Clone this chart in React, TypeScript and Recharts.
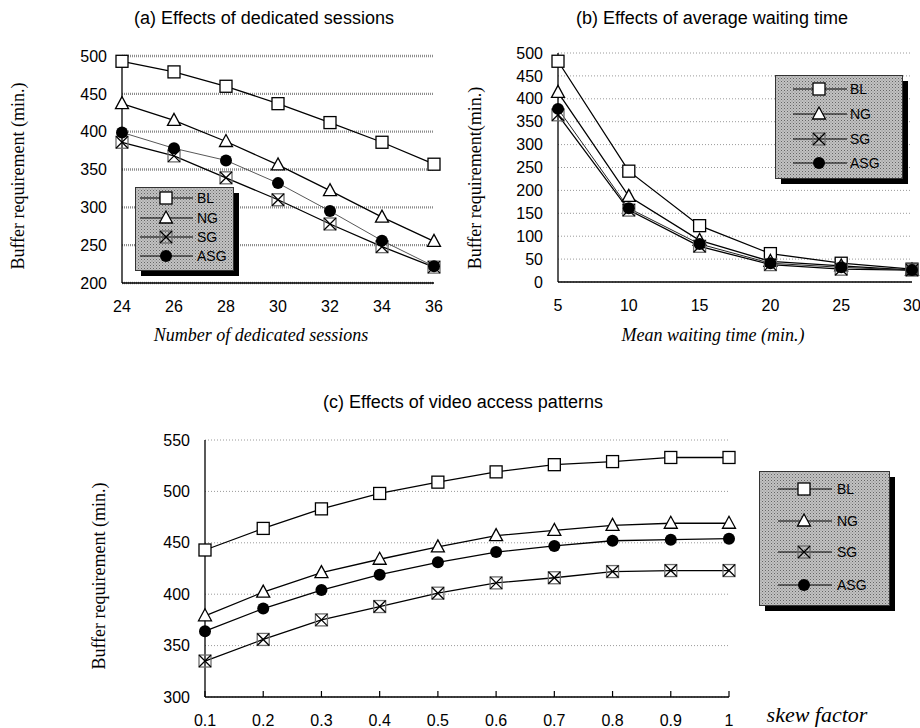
import React from 'react';
import { LineChart, Line, XAxis, YAxis, CartesianGrid, Legend } from 'recharts';

const SERIES = ['BL', 'NG', 'SG', 'ASG'];

const aX = [24, 26, 28, 30, 32, 34, 36];
const aBL = [493, 479, 460, 437, 412, 386, 357];
const aNG = [437, 415, 387, 356, 322, 287, 255];
const aSG = [386, 368, 339, 310, 278, 248, 221];
const aASG = [399, 378, 362, 332, 295, 256, 222];
const aYTicks = [200, 250, 300, 350, 400, 450, 500];

const bX = [5, 10, 15, 20, 25, 30];
const bBL = [482, 242, 123, 62, 41, 28];
const bNG = [414, 187, 91, 45, 35, 26];
const bSG = [365, 157, 78, 38, 28, 26];
const bASG = [378, 161, 83, 41, 32, 26];
const bYTicks = [0, 50, 100, 150, 200, 250, 300, 350, 400, 450, 500];

const cX = [0.1, 0.2, 0.3, 0.4, 0.5, 0.6, 0.7, 0.8, 0.9, 1];
const cBL = [443, 464, 483, 498, 509, 519, 526, 529, 533, 533];
const cNG = [379, 402, 421, 434, 446, 457, 462, 467, 469, 469];
const cSG = [335, 356, 375, 388, 401, 411, 416, 422, 423, 423];
const cASG = [364, 386, 404, 419, 431, 441, 447, 452, 453, 454];
const cYTicks = [300, 350, 400, 450, 500, 550];

const build = (xs: number[], bl: number[], ng: number[], sg: number[], asg: number[]) =>
  xs.map((x, i) => ({ x, BL: bl[i], NG: ng[i], SG: sg[i], ASG: asg[i] }));

const dataA = build(aX, aBL, aNG, aSG, aASG);
const dataB = build(bX, bBL, bNG, bSG, bASG);
const dataC = build(cX, cBL, cNG, cSG, cASG);

const SANS = '"Liberation Sans", Arial, sans-serif';
const SERIF = '"Liberation Serif", "Times New Roman", serif';
const TICK_MARGIN = 18;

function Marker({ type, cx, cy }: { type: string; cx: number; cy: number }) {
  if (type === 'BL') {
    return <rect x={cx - 6} y={cy - 6} width={12} height={12} fill="#fff" stroke="#000" strokeWidth={1.3} />;
  }
  if (type === 'NG') {
    return (
      <polygon
        points={`${cx},${cy - 7} ${cx - 6.5},${cy + 5} ${cx + 6.5},${cy + 5}`}
        fill="#fff"
        stroke="#000"
        strokeWidth={1.3}
      />
    );
  }
  if (type === 'SG') {
    return (
      <g>
        <rect x={cx - 6} y={cy - 6} width={12} height={12} fill="none" stroke="#6e6e6e" strokeWidth={1.3} />
        <line x1={cx - 6} y1={cy - 6} x2={cx + 6} y2={cy + 6} stroke="#000" strokeWidth={1.3} />
        <line x1={cx + 6} y1={cy - 6} x2={cx - 6} y2={cy + 6} stroke="#000" strokeWidth={1.3} />
      </g>
    );
  }
  return <circle cx={cx} cy={cy} r={6} fill="#000" />;
}

const makeDot = (type: string) => (p: any) => {
  if (p.cx == null || p.cy == null) return <g key={`e-${type}-${p.index}`} />;
  return (
    <g key={`d-${type}-${p.index}`}>
      <Marker type={type} cx={p.cx} cy={p.cy} />
    </g>
  );
};

const makeXTick = (inner: boolean) => (p: any) => {
  const axisY = p.y - TICK_MARGIN;
  return (
    <g>
      {inner ? <line x1={p.x} y1={axisY} x2={p.x} y2={axisY - 6} stroke="#000" strokeWidth={1.2} /> : null}
      <text x={p.x} y={p.y} dy="0.71em" textAnchor="middle" fontFamily={SANS} fontSize={16} fill="#000">
        {p.payload.value}
      </text>
    </g>
  );
};

type LegendGeom = {
  id: string;
  w: number;
  h: number;
  rows: number[];
  lx1: number;
  lx2: number;
  mx: number;
  tx: number;
  fs: number;
};

function LegendBox({ g }: { g: LegendGeom }) {
  return (
    <svg width={g.w + 7} height={g.h + 7} style={{ display: 'block' }}>
      <defs>
        <pattern id={g.id} width={3} height={3} patternUnits="userSpaceOnUse">
          <rect width={3} height={3} fill="#c2c2c2" />
          <rect x={0} y={0} width={1} height={1} fill="#666" />
          <rect x={1.5} y={1.5} width={1} height={1} fill="#888" />
        </pattern>
      </defs>
      <rect x={6} y={6} width={g.w} height={g.h} fill="#000" />
      <rect x={0.5} y={0.5} width={g.w} height={g.h} fill={`url(#${g.id})`} stroke="#333" strokeWidth={1} />
      {SERIES.map((s, i) => (
        <g key={s}>
          <line x1={g.lx1} y1={g.rows[i]} x2={g.lx2} y2={g.rows[i]} stroke="#000" strokeWidth={1.2} />
          <Marker type={s} cx={g.mx} cy={g.rows[i]} />
          <text x={g.tx} y={g.rows[i]} dy="0.36em" fontFamily={SANS} fontSize={g.fs} fill="#000">
            {s}
          </text>
        </g>
      ))}
    </svg>
  );
}

type PanelProps = {
  left: number;
  top: number;
  width: number;
  height: number;
  margin: { top: number; right: number; bottom: number; left: number };
  data: any[];
  xDomain: [number, number];
  xTicks: number[];
  yDomain: [number, number];
  yTicks: number[];
  grid: { stroke: string; width: number; dash: string };
  asgStroke: string;
  asgWidth: number;
  legend: LegendGeom;
  legendPos: { left: number; top: number };
  xAxisHeight: number;
  innerTicks: boolean;
};

function Panel(p: PanelProps) {
  return (
    <div style={{ position: 'absolute', left: p.left, top: p.top }}>
      <LineChart width={p.width} height={p.height} data={p.data} margin={p.margin}>
        <CartesianGrid
          vertical={false}
          stroke={p.grid.stroke}
          strokeWidth={p.grid.width}
          strokeDasharray={p.grid.dash}
        />
        <XAxis
          dataKey="x"
          type="number"
          domain={p.xDomain}
          ticks={p.xTicks}
          interval={0}
          height={p.xAxisHeight}
          tickSize={0}
          tickMargin={TICK_MARGIN}
          axisLine={{ stroke: '#000', strokeWidth: 1.3 }}
          tickLine={false}
          tick={makeXTick(p.innerTicks)}
          allowDecimals
        />
        <YAxis
          type="number"
          domain={p.yDomain}
          ticks={p.yTicks}
          interval={0}
          width={60}
          tickSize={0}
          tickMargin={15}
          axisLine={{ stroke: '#000', strokeWidth: 1.3 }}
          tickLine={false}
          tick={{ fill: '#000', fontSize: 16, fontFamily: SANS }}
        />
        <Legend
          layout="horizontal"
          align="center"
          verticalAlign="middle"
          wrapperStyle={{ left: p.legendPos.left, top: p.legendPos.top, width: 'auto', height: 'auto' }}
          content={() => <LegendBox g={p.legend} />}
        />
        {SERIES.map((s) => (
          <Line
            key={s}
            dataKey={s}
            name={s}
            type="linear"
            stroke={s === 'ASG' ? p.asgStroke : '#000'}
            strokeWidth={s === 'ASG' ? p.asgWidth : 1.3}
            dot={makeDot(s)}
            activeDot={false}
            isAnimationActive={false}
          />
        ))}
      </LineChart>
    </div>
  );
}

const txt = (
  content: string,
  cx: number,
  cy: number,
  opts: { font: string; size: number; italic?: boolean; rotate?: boolean }
) => (
  <div
    style={{
      position: 'absolute',
      left: cx,
      top: cy,
      transform: `translate(-50%, -50%)${opts.rotate ? ' rotate(-90deg)' : ''}`,
      whiteSpace: 'nowrap',
      fontFamily: opts.font,
      fontSize: opts.size,
      fontStyle: opts.italic ? 'italic' : 'normal',
      color: '#000',
      lineHeight: 1,
    }}
  >
    {content}
  </div>
);

export default function App() {
  return (
    <div style={{ position: 'absolute', left: 0, top: 0, width: 920, height: 728, background: '#fff', overflow: 'hidden' }}>
      <Panel
        left={0}
        top={0}
        width={460}
        height={345}
        margin={{ top: 56, right: 26, bottom: 22, left: 62 }}
        data={dataA}
        xDomain={[24, 36]}
        xTicks={aX}
        yDomain={[200, 500]}
        yTicks={aYTicks}
        grid={{ stroke: '#8c8c8c', width: 2.4, dash: '1 1' }}
        asgStroke="#444"
        asgWidth={0.9}
        xAxisHeight={40}
        innerTicks={false}
        legend={{ id: 'pa', w: 98, h: 83, rows: [11, 31, 50, 69], lx1: 5, lx2: 58, mx: 31, tx: 62, fs: 14 }}
        legendPos={{ left: 135, top: 187 }}
      />
      <Panel
        left={460}
        top={0}
        width={460}
        height={345}
        margin={{ top: 53, right: 8, bottom: 23, left: 38 }}
        data={dataB}
        xDomain={[5, 30]}
        xTicks={bX}
        yDomain={[0, 500]}
        yTicks={bYTicks}
        grid={{ stroke: '#9a9a9a', width: 1, dash: '1 2' }}
        asgStroke="#222"
        asgWidth={1}
        xAxisHeight={40}
        innerTicks={false}
        legend={{ id: 'pb', w: 127, h: 103, rows: [14, 39, 64, 88], lx1: 18, lx2: 72, mx: 44, tx: 75, fs: 14 }}
        legendPos={{ left: 315, top: 75 }}
      />
      <Panel
        left={0}
        top={330}
        width={920}
        height={398}
        margin={{ top: 110, right: 191, bottom: 6, left: 145 }}
        data={dataC}
        xDomain={[0.1, 1]}
        xTicks={cX}
        yDomain={[300, 550]}
        yTicks={cYTicks}
        grid={{ stroke: '#9a9a9a', width: 1, dash: '1 2' }}
        asgStroke="#000"
        asgWidth={1.3}
        xAxisHeight={25}
        innerTicks={true}
        legend={{ id: 'pc', w: 130, h: 134, rows: [18, 50, 81, 114], lx1: 19, lx2: 73, mx: 45, tx: 78, fs: 14 }}
        legendPos={{ left: 759, top: 141 }}
      />

      {txt('(a) Effects of dedicated sessions', 264, 18, { font: SANS, size: 18 })}
      {txt('(b) Effects of average waiting time', 712, 18, { font: SANS, size: 18 })}
      {txt('(c) Effects of video access patterns', 463, 402, { font: SANS, size: 18 })}

      {txt('Buffer requirement (min.)', 18, 176, { font: SERIF, size: 18, rotate: true })}
      {txt('Buffer requirement(min.)', 475, 178, { font: SERIF, size: 18, rotate: true })}
      {txt('Buffer requirement (min.)', 99, 576, { font: SERIF, size: 18, rotate: true })}

      {txt('Number of dedicated sessions', 261, 335, { font: SERIF, size: 18, italic: true })}
      {txt('Mean waiting time (min.)', 713, 335, { font: SERIF, size: 18, italic: true })}
      {txt('skew factor', 817, 715, { font: SERIF, size: 22, italic: true })}
    </div>
  );
}
